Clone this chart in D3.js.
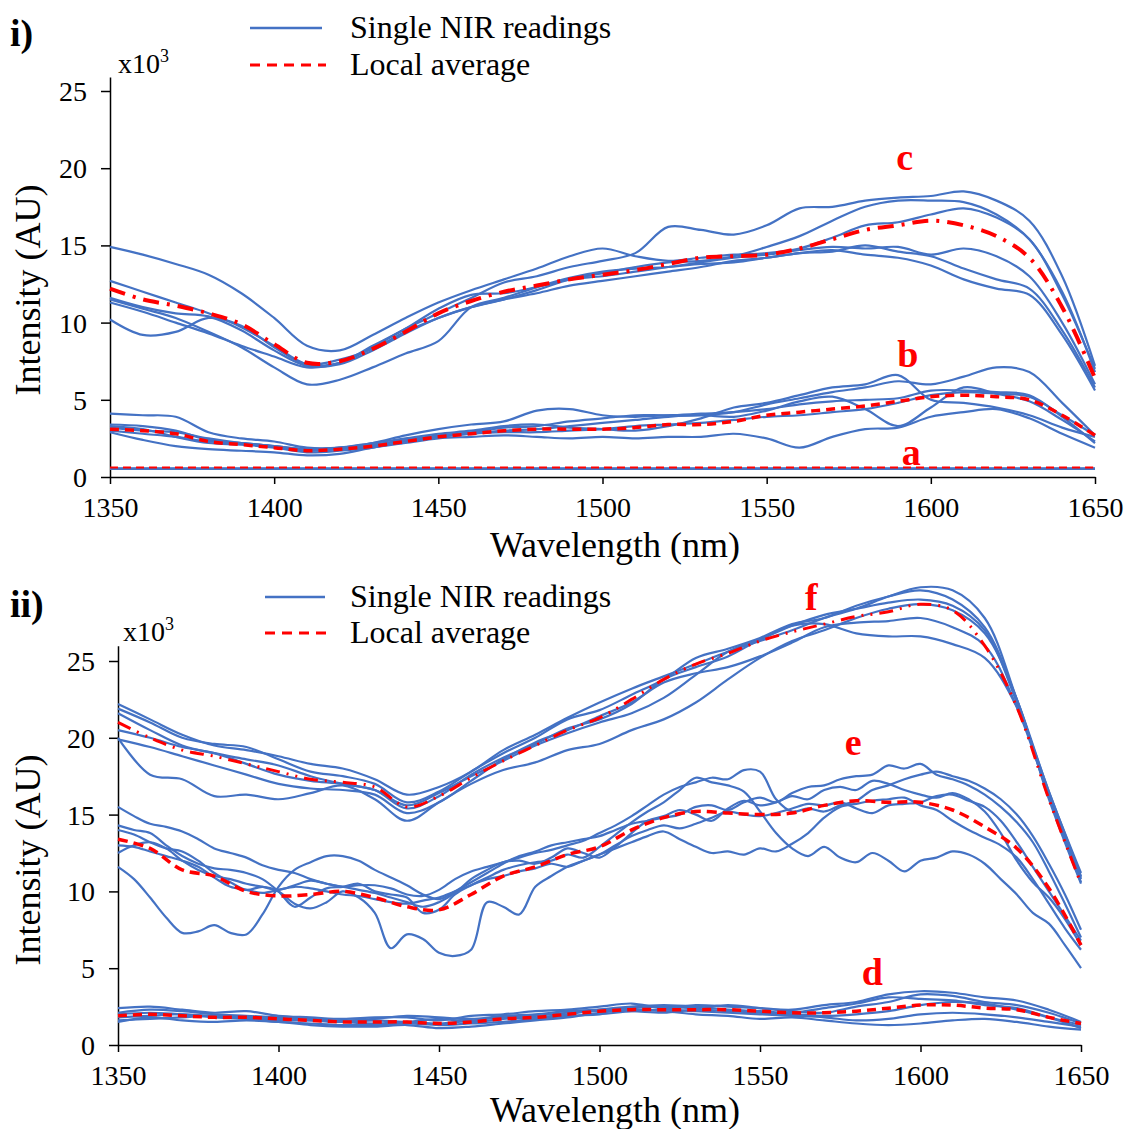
<!DOCTYPE html>
<html>
<head>
<meta charset="utf-8">
<script src="https://cdn.jsdelivr.net/npm/d3@7/dist/d3.min.js"></script>
<style>
  body { margin: 0; background: #fff; }
  svg, svg text { font-family: "Liberation Serif", "Times New Roman", Times, serif; }
</style>
</head>
<body>
<div id="chart"></div>
<script>
// Wavelength grids (nm)
const wl10 = [1350,1360,1370,1380,1390,1400,1410,1420,1430,1440,1450,1460,1470,1480,1490,1500,
  1510,1520,1530,1540,1550,1560,1570,1580,1590,1600,1610,1620,1630,1640,1650];
const wl5 = [1350,1355,1360,1365,1370,1375,1380,1385,1390,1395,1400,1405,1410,1415,1420,1425,1430,1435,1440,1445,
  1450,1455,1460,1465,1470,1475,1480,1485,1490,1495,1500,1505,1510,1515,1520,1525,1530,1535,1540,1545,
  1550,1555,1560,1565,1570,1575,1580,1585,1590,1595,1600,1605,1610,1615,1620,1625,1630,1635,1640,1645,1650];

const xTicks = [1350, 1400, 1450, 1500, 1550, 1600, 1650];
const yTicks = [0, 5, 10, 15, 20, 25];

// ---- Panel i (x10^3 AU) ----
const cSingle = [
  [14.9,14.4,13.8,13.1,11.9,10.3,8.5,8.2,9.2,10.3,11.3,12.1,12.8,13.5,14.3,14.8,14.3,14.0,14.2,14.4,14.5,14.8,15.5,16.3,16.5,17.0,17.4,16.8,15.4,11.8,7.0],
  [12.7,12.0,11.3,10.6,9.7,8.5,7.3,7.4,8.4,9.6,10.6,11.6,12.6,13.0,13.6,14.0,14.5,16.2,16.0,15.7,16.3,17.4,17.5,17.9,18.1,18.2,18.5,17.9,16.6,13.0,7.2],
  [11.6,11.0,10.6,10.4,9.5,8.2,7.2,7.3,8.2,9.3,10.3,11.0,11.5,12.1,12.8,13.2,13.6,13.9,14.0,14.3,14.9,15.6,16.6,17.5,17.9,17.9,17.8,17.0,15.4,12.0,6.8],
  [11.3,10.7,10.0,9.3,8.5,7.8,7.1,7.4,8.5,9.6,10.9,11.8,11.9,12.3,12.8,13.0,13.3,13.6,13.9,14.2,14.4,14.7,14.9,14.8,14.9,14.4,14.8,14.3,13.0,10.0,6.0],
  [10.2,9.2,9.4,10.3,9.8,8.4,7.3,7.6,8.3,9.4,10.3,11.0,11.5,11.9,12.4,12.7,13.0,13.3,13.6,14.0,14.2,14.5,14.6,15.0,14.6,14.3,13.5,12.8,12.2,9.5,5.8],
  [11.5,10.9,10.3,9.4,8.4,7.1,6.0,6.3,7.1,8.0,8.8,11.0,11.6,12.3,12.9,13.3,13.5,13.6,13.8,13.9,14.2,14.5,14.7,14.4,14.2,13.7,12.8,12.2,11.8,9.2,5.6]
];
const cAverage = [12.2,11.5,11.1,10.6,9.9,8.6,7.4,7.5,8.3,9.4,10.6,11.4,12.0,12.4,12.8,13.1,13.4,13.8,14.2,14.3,14.4,14.8,15.4,16.0,16.3,16.6,16.3,15.6,14.2,11.0,6.4];

const bSingle = [
  [4.1,4.0,3.9,2.9,2.5,2.3,1.9,1.9,2.2,2.7,3.1,3.4,3.6,4.3,4.4,4.0,3.9,4.0,4.0,4.2,4.7,5.1,5.5,5.8,6.2,6.0,6.5,7.1,6.8,4.8,2.7],
  [3.4,3.3,3.0,2.4,2.2,2.0,1.8,1.9,2.2,2.5,2.8,3.0,3.3,3.4,3.2,3.1,3.0,3.3,3.8,4.5,4.8,5.3,5.8,6.0,6.6,5.0,4.8,4.5,4.0,3.2,2.6],
  [3.3,3.1,2.6,2.2,2.1,1.9,1.6,1.7,1.9,2.3,2.6,2.8,3.0,3.1,3.3,3.5,3.7,3.9,4.0,3.9,4.3,4.9,5.2,4.4,3.3,4.5,5.8,5.4,4.9,3.7,2.3],
  [3.2,3.0,2.9,2.5,2.2,2.0,1.7,1.8,2.0,2.4,2.6,2.8,2.9,2.9,3.0,3.1,3.3,3.4,3.5,3.7,3.9,4.0,4.2,4.4,4.8,5.3,5.5,5.4,5.2,4.0,2.7],
  [2.9,2.4,2.0,1.8,1.7,1.6,1.4,1.5,1.9,2.2,2.5,2.6,2.7,2.6,2.5,2.6,2.5,2.6,2.6,2.8,2.5,1.9,2.6,3.1,3.2,3.9,4.2,4.4,3.8,2.8,1.9],
  [3.0,2.8,2.6,2.3,2.2,2.0,1.8,1.9,2.1,2.4,2.7,2.9,3.2,3.3,3.6,3.8,4.0,4.0,4.1,4.2,4.4,4.7,4.9,5.0,5.1,5.6,5.6,5.5,5.3,3.9,2.2]
];
const bAverage = [3.1,3.0,2.8,2.3,2.1,1.9,1.7,1.8,2.0,2.3,2.6,2.8,3.0,3.1,3.1,3.1,3.2,3.4,3.4,3.6,4.0,4.2,4.4,4.6,4.9,5.2,5.3,5.2,5.0,4.0,2.7];

const aSingle = [
  [0.52,0.52,0.52,0.52,0.52,0.52,0.52,0.52,0.52,0.52,0.52,0.52,0.52,0.52,0.52,0.52,0.52,0.52,0.52,0.52,0.52,0.52,0.52,0.52,0.52,0.52,0.52,0.52,0.52,0.52,0.52],
  [0.56,0.56,0.56,0.56,0.56,0.56,0.56,0.56,0.56,0.56,0.56,0.56,0.56,0.56,0.56,0.56,0.56,0.56,0.56,0.56,0.56,0.56,0.56,0.56,0.56,0.56,0.56,0.56,0.56,0.56,0.56]
];
const aAverage = [0.62,0.62,0.62,0.62,0.62,0.62,0.62,0.62,0.62,0.62,0.62,0.62,0.62,0.62,0.62,0.62,0.62,0.62,0.62,0.62,0.62,0.62,0.62,0.62,0.62,0.62,0.62,0.62,0.62,0.62,0.62];

// ---- Panel ii (x10^3 AU) ----
const fSingle = [
  [22.2,21.2,20.2,19.5,19.2,18.8,18.3,18.0,17.3,16.3,16.8,17.8,19.2,20.2,21.3,22.3,23.2,24.0,24.8,25.6,26.3,27.0,27.8,28.4,29.2,29.8,29.6,27.8,22.5,16.2,10.8],
  [21.9,21.0,20.0,19.6,19.4,18.6,17.8,17.5,17.0,15.8,16.5,17.8,19.0,20.0,21.2,21.8,22.8,23.8,25.2,25.8,26.5,27.4,27.8,28.6,29.2,29.6,29.0,27.2,22.5,16.5,11.2],
  [20.0,17.6,17.3,16.2,16.3,16.0,16.4,16.9,16.0,14.6,15.8,17.0,17.9,18.4,19.2,19.6,20.5,21.2,22.3,23.8,25.2,26.3,27.0,27.8,28.4,28.7,28.3,26.8,22.5,16.0,10.5],
  [19.9,19.4,18.8,18.2,17.6,17.0,16.7,16.6,16.3,15.1,15.8,17.2,18.6,19.7,20.5,21.4,22.3,23.6,24.2,24.6,25.3,26.2,27.2,27.5,27.6,27.8,27.2,26.0,22.0,16.2,10.6],
  [21.6,20.5,19.5,19.0,18.6,18.2,17.5,17.0,16.6,15.4,16.2,17.6,18.7,19.6,20.6,21.2,22.2,23.8,24.6,25.3,26.4,27.3,27.4,26.8,26.6,26.6,26.1,25.2,22.0,16.3,10.9],
  [20.5,20.0,19.4,19.0,18.3,17.6,17.2,17.0,16.6,15.6,16.4,17.5,18.5,19.5,20.3,21.0,21.6,22.6,24.1,25.6,26.4,27.3,28.0,28.4,28.8,29.0,28.6,27.0,22.3,16.5,11.0]
];
const fAverage = [21.0,20.0,19.2,18.8,18.3,17.8,17.3,17.1,16.8,15.5,16.2,17.4,18.5,19.5,20.5,21.3,22.5,23.8,24.8,25.5,26.3,26.9,27.4,27.9,28.2,28.7,28.3,26.0,22.0,16.0,10.5];

const eSingle = [
  [11.6,10.8,9.6,8.3,7.3,7.4,7.8,7.3,7.2,8.5, 10.3,11.4,11.9,12.3,12.3,12.0,11.4,10.9,10.4,9.8,
   9.5,10.0,10.6,11.2,11.8,12.3,12.6,13.0,13.2,13.4, 13.6,14.0,14.4,14.6,14.8,15.0,15.5,15.6,15.3,15.8,
   16.1,15.8,16.4,16.8,16.9,17.3,17.5,17.6,18.2,18.0, 18.3,17.6,17.3,16.9,16.3,15.5,14.5,13.2,11.3,9.2, 7.0],
  [15.5,14.9,14.4,14.2,13.9,13.4,12.8,12.5,12.2,11.7, 11.4,11.2,10.8,10.5,10.3,10.4,10.4,10.2,9.8,9.7,
   10.1,10.8,11.3,11.6,11.9,12.2,12.5,12.7,13.0,13.3, 13.8,14.3,14.9,15.6,16.3,16.8,17.1,17.4,17.3,17.9,
   17.8,16.0,15.2,15.4,15.2,15.6,15.9,16.6,16.9,17.3, 17.6,17.8,17.5,17.2,16.7,16.0,15.0,13.6,11.8,9.8, 7.5],
  [14.3,14.0,13.8,13.0,12.3,11.8,11.5,11.4,11.2,10.8, 10.0,9.0,9.6,10.2,10.3,10.5,10.0,9.8,9.6,8.6,
   8.8,9.8,10.4,10.9,11.4,11.7,11.9,12.0,12.4,12.2, 12.9,13.7,14.5,15.2,15.8,16.6,17.4,17.1,16.9,16.5,
   15.2,13.8,12.8,12.3,12.9,12.2,11.9,12.5,12.0,11.3, 12.0,12.2,12.6,12.4,11.8,10.8,9.8,8.6,7.9,6.5, 5.0],
  [14.0,13.7,13.2,12.8,12.6,12.0,11.2,10.6,10.1,10.3, 10.0,9.2,8.9,9.3,10.0,9.6,8.6,6.3,7.2,6.9,
   6.0,5.8,6.2,9.3,9.0,8.5,10.3,11.0,11.6,12.0, 12.4,13.0,13.6,14.0,14.3,14.1,14.4,14.8,15.2,15.0,
   14.9,15.1,15.4,15.7,15.6,15.8,15.4,15.1,15.6,15.7, 15.8,16.2,16.3,15.9,15.5,14.6,13.2,11.6,10.0,8.4, 6.8],
  [13.0,12.9,12.6,12.3,12.0,11.6,10.9,10.3,10.1,9.9, 10.1,10.3,10.2,10.0,9.8,9.7,9.5,9.3,9.2,9.4,
   9.6,10.0,10.4,10.8,11.0,11.3,11.5,11.8,11.6,12.0, 12.4,12.8,13.2,13.6,13.9,13.4,12.9,12.5,12.6,12.4,
   12.8,12.6,13.1,13.8,14.8,15.5,15.7,15.9,16.0,16.1, 15.6,15.3,14.6,14.0,13.5,13.0,12.2,10.8,9.2,7.6, 6.2],
  [12.5,13.0,13.2,12.8,12.0,11.4,11.0,10.8,10.5,10.3, 10.1,10.4,10.7,10.5,10.3,10.1,9.9,9.6,9.3,9.0,
   9.3,9.9,10.8,11.4,11.9,12.0,11.8,12.2,12.8,12.5, 12.2,12.9,13.8,14.6,14.9,15.3,15.0,14.6,15.4,15.9,
   15.6,15.8,16.2,16.0,16.6,16.8,16.6,17.2,17.0,16.6, 16.3,16.1,16.4,16.0,15.2,13.8,12.0,10.6,9.6,8.2, 6.5]
];
const eAverage = [13.4,12.8,11.4,11.0,10.0,9.7,9.8,10.0,9.6,9.0,8.8,9.8,11.0,11.6,12.4,12.9,14.0,14.8,15.2,15.1,15.0,15.1,15.6,15.9,15.8,15.8,15.3,14.2,12.8,10.2,6.5];

const dSingle = [
  [2.4,2.5,2.3,2.1,2.2,1.9,1.8,1.7,1.8,1.8,1.6,1.9,2.0,2.2,2.3,2.5,2.7,2.4,2.6,2.5,2.4,2.3,2.6,2.8,3.3,3.5,3.4,3.1,2.9,2.3,1.5],
  [2.1,2.3,2.2,2.0,1.9,1.8,1.7,1.6,1.7,1.9,1.8,1.7,1.9,2.0,2.2,2.3,2.4,2.5,2.4,2.6,2.4,2.2,2.1,2.5,2.8,3.3,3.2,2.8,2.6,2.1,1.4],
  [1.8,1.9,2.0,1.8,1.7,1.6,1.6,1.5,1.4,1.5,1.4,1.6,1.8,1.9,2.1,2.2,2.2,2.1,2.3,2.2,2.1,2.0,1.9,2.0,2.2,2.6,2.8,2.7,2.3,1.8,1.3],
  [1.6,1.7,1.8,1.9,1.7,1.5,1.4,1.3,1.3,1.4,1.3,1.4,1.5,1.7,1.9,2.0,2.2,2.3,2.2,2.1,2.0,1.9,1.8,1.6,1.7,2.0,2.1,2.0,1.8,1.5,1.2],
  [1.5,1.8,1.6,1.5,1.6,1.5,1.3,1.2,1.2,1.3,1.1,1.2,1.4,1.6,1.8,2.1,2.3,2.2,2.0,1.9,1.7,1.8,1.6,1.4,1.3,1.4,1.6,1.7,1.5,1.2,1.0],
  [2.0,2.1,2.0,1.9,1.8,1.7,1.6,1.5,1.6,1.5,1.7,1.5,1.7,1.8,2.0,2.3,2.5,2.6,2.5,2.3,2.2,2.1,2.4,2.7,3.1,3.0,2.9,2.6,2.4,1.8,1.1]
];
const dAverage = [1.9,2.0,1.9,1.8,1.8,1.7,1.6,1.5,1.5,1.5,1.4,1.5,1.7,1.8,2.0,2.2,2.3,2.3,2.3,2.3,2.2,2.1,2.1,2.2,2.4,2.6,2.6,2.4,2.3,1.8,1.4];

const blue = "#4472C4";
const red = "#FF0000";
const serif = '"Liberation Serif", "Times New Roman", Times, serif';

const svg = d3.select("#chart").append("svg")
  .attr("width", 1128)
  .attr("height", 1129)
  .style("font-family", serif);

function drawPanel(cfg) {
  const g = svg.append("g");

  const x = d3.scaleLinear().domain([1350, 1650]).range(cfg.xRange);
  const y = d3.scaleLinear().domain([0, 25]).range([cfg.y0, cfg.y25]);
  const yAxisScale = y.copy().domain([0, cfg.yTop]).range([cfg.y0, y(cfg.yTop)]);

  // Axes
  const xAxis = g.append("g")
    .attr("transform", `translate(0,${cfg.y0})`)
    .call(d3.axisBottom(x).tickValues(xTicks).tickSize(7).tickSizeOuter(0).tickPadding(13).tickFormat(d3.format("d")));
  const yAxis = g.append("g")
    .attr("transform", `translate(${cfg.xRange[0]},0)`)
    .call(d3.axisLeft(yAxisScale).tickValues(yTicks).tickSize(9).tickSizeOuter(0).tickPadding(14));
  [xAxis, yAxis].forEach(ax => {
    ax.attr("font-size", null).attr("font-family", serif);
    ax.selectAll("text").style("font-size", "28px").style("font-family", serif).attr("fill", "#000");
    ax.selectAll("path, line").attr("stroke", "#000").attr("stroke-width", 1.5);
  });
  yAxis.selectAll("text").attr("dy", "0.34em");

  const line = d3.line()
    .x(d => x(d[0]))
    .y(d => y(d[1]))
    .curve(d3.curveCatmullRom.alpha(0.5));

  // Single readings then local averages
  cfg.groups.forEach(grp => {
    grp.singles.forEach(s => {
      g.append("path")
        .datum(grp.wl.map((w, i) => [w, s[i]]))
        .attr("d", line)
        .attr("fill", "none")
        .attr("stroke", blue)
        .attr("stroke-width", 2.2);
    });
  });
  cfg.groups.forEach(grp => {
    g.append("path")
      .datum(wl10.map((w, i) => [w, grp.avg[i]]))
      .attr("d", line)
      .attr("fill", "none")
      .attr("stroke", red)
      .attr("stroke-width", grp.avgWidth)
      .attr("stroke-dasharray", grp.dash);
  });

  // Group labels
  cfg.labels.forEach(l => {
    g.append("text")
      .attr("x", x(l.wl))
      .attr("y", y(l.v))
      .attr("text-anchor", "middle")
      .style("font-size", "38px")
      .style("font-weight", "bold")
      .attr("fill", red)
      .text(l.text);
  });

  // Axis titles
  g.append("text")
    .attr("x", 615)
    .attr("y", cfg.xTitleY)
    .attr("text-anchor", "middle")
    .style("font-size", "36px")
    .text("Wavelength (nm)");
  g.append("text")
    .attr("transform", `translate(40,${cfg.yTitleY}) rotate(-90)`)
    .attr("text-anchor", "middle")
    .style("font-size", "36px")
    .text("Intensity (AU)");

  // Multiplier
  const mult = g.append("text")
    .attr("x", cfg.multX)
    .attr("y", cfg.multY)
    .style("font-size", "28px");
  mult.append("tspan").text("x10");
  mult.append("tspan").attr("dy", -11).style("font-size", "18px").text("3");

  // Panel tag
  g.append("text")
    .attr("x", 10)
    .attr("y", cfg.tagY)
    .style("font-size", "38px")
    .style("font-weight", "bold")
    .text(cfg.tag);

  // Legend
  const lg = cfg.legend;
  g.append("line")
    .attr("x1", lg.x1).attr("x2", lg.x2)
    .attr("y1", lg.y1).attr("y2", lg.y1)
    .attr("stroke", blue).attr("stroke-width", 2.5);
  g.append("text")
    .attr("x", 350).attr("y", lg.y1 + 10)
    .style("font-size", "32px")
    .text("Single NIR readings");
  g.append("line")
    .attr("x1", lg.x1).attr("x2", lg.x2 + 4)
    .attr("y1", lg.y2).attr("y2", lg.y2)
    .attr("stroke", red).attr("stroke-width", 3)
    .attr("stroke-dasharray", "10,7");
  g.append("text")
    .attr("x", 350).attr("y", lg.y2 + 10)
    .style("font-size", "32px")
    .text("Local average");
}

drawPanel({
  tag: "i)", tagY: 46,
  xRange: [110, 1095], y0: 477, y25: 91, yTop: 25.9,
  xTitleY: 557, yTitleY: 290,
  multX: 118, multY: 73,
  legend: { x1: 250, x2: 322, y1: 28, y2: 65 },
  groups: [
    { wl: wl10, singles: cSingle, avg: cAverage, dash: "16,8,3,8", avgWidth: 4 },
    { wl: wl10, singles: bSingle, avg: bAverage, dash: "9,6", avgWidth: 3.5 },
    { wl: wl10, singles: aSingle, avg: aAverage, dash: "8,5", avgWidth: 2 }
  ],
  labels: [
    { text: "c", wl: 1592, v: 19.9 },
    { text: "b", wl: 1593, v: 7.1 },
    { text: "a", wl: 1594, v: 0.8 }
  ]
});

drawPanel({
  tag: "ii)", tagY: 617,
  xRange: [118, 1081], y0: 1045, y25: 661, yTop: 26.0,
  xTitleY: 1122, yTitleY: 860,
  multX: 123, multY: 641,
  legend: { x1: 265, x2: 325, y1: 597, y2: 633 },
  groups: [
    { wl: wl10, singles: fSingle, avg: fAverage, dash: "14,7,2,7,2,7", avgWidth: 3 },
    { wl: wl5, singles: eSingle, avg: eAverage, dash: "10,6", avgWidth: 3.5 },
    { wl: wl10, singles: dSingle, avg: dAverage, dash: "9,6", avgWidth: 3.5 }
  ],
  labels: [
    { text: "f", wl: 1566, v: 28.3 },
    { text: "e", wl: 1579, v: 18.9 },
    { text: "d", wl: 1585, v: 3.9 }
  ]
});
</script>
</body>
</html>
